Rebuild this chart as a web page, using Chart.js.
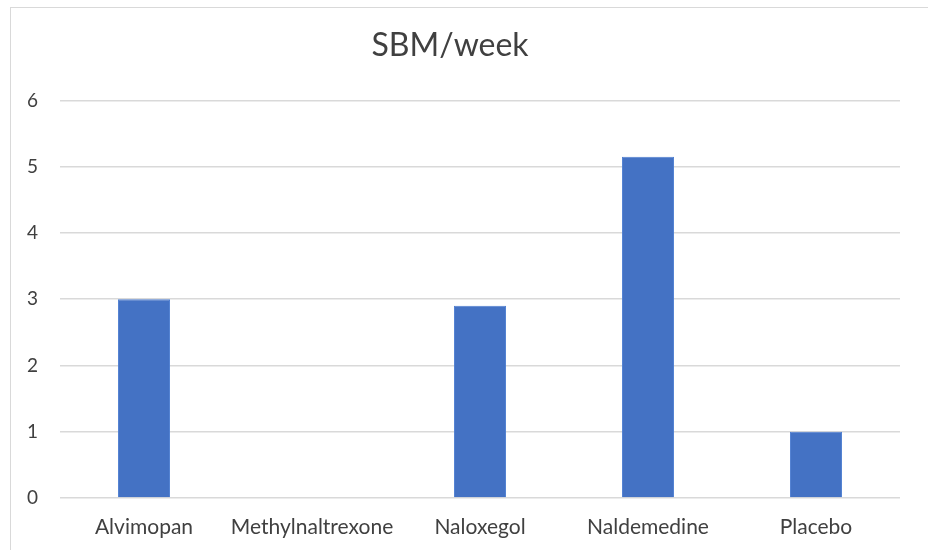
<!DOCTYPE html>
<html lang="en">
<head>
  <meta charset="UTF-8" />
  <title>SBM/week</title>
  <script src="https://cdn.jsdelivr.net/npm/chart.js"></script>
  <style>
    body {
      margin: 0;
      background: #fff;
      width: 928px;
      height: 550px;
      overflow: hidden;
      position: relative;
    }
    .frame {
      position: absolute;
      left: 10px;
      top: 7px;
      width: 940px;
      height: 560px;
      border: 1px solid #d9d9d9;
    }
    .wrap {
      position: absolute;
      left: 0;
      top: 0;
      width: 928px;
      height: 550px;
    }
  </style>
</head>
<body>
  <div class="frame"></div>
  <div class="wrap"><canvas id="chart"></canvas></div>

  <script>
    const categories = ['Alvimopan', 'Methylnaltrexone', 'Naloxegol', 'Naldemedine', 'Placebo'];
    const sbmPerWeek = [3.0, null, 2.9, 5.15, 1.0];
    const yTicks = [0, 1, 2, 3, 4, 5, 6];

    const font = "Lato, 'Open Sans', sans-serif";

    new Chart(document.getElementById('chart'), {
      type: 'bar',
      data: {
        labels: categories,
        datasets: [{
          label: 'SBM/week',
          data: sbmPerWeek,
          backgroundColor: '#4472C4',
          borderColor: '#4f7fd1',
          borderWidth: 1,
          barPercentage: 0.31,
          categoryPercentage: 1
        }]
      },
      options: {
        responsive: true,
        maintainAspectRatio: false,
        animation: false,
        layout: { padding: { left: 0, right: 28, top: 0, bottom: 0 } },
        plugins: {
          legend: { display: false },
          tooltip: { enabled: false },
          title: {
            display: true,
            text: 'SBM/week',
            color: '#404040',
            font: { family: font, size: 32, weight: 'normal' },
            padding: { top: 26, bottom: 36 }
          }
        },
        scales: {
          x: {
            grid: { display: false, drawTicks: false },
            border: { display: false },
            ticks: {
              color: '#404040',
              font: { family: font, size: 21 },
              padding: 17,
              maxRotation: 0
            },
            afterFit: s => { s.height = 52; }
          },
          y: {
            min: 0,
            max: 6,
            afterBuildTicks: s => { s.ticks = yTicks.map(v => ({ value: v })); },
            grid: { color: '#d9d9d9', lineWidth: 1.5, drawTicks: false },
            border: { display: false },
            ticks: {
              color: '#404040',
              font: { family: font, size: 19 },
              padding: 22
            },
            afterFit: s => { s.width = 60; }
          }
        }
      }
    });
  </script>
</body>
</html>
